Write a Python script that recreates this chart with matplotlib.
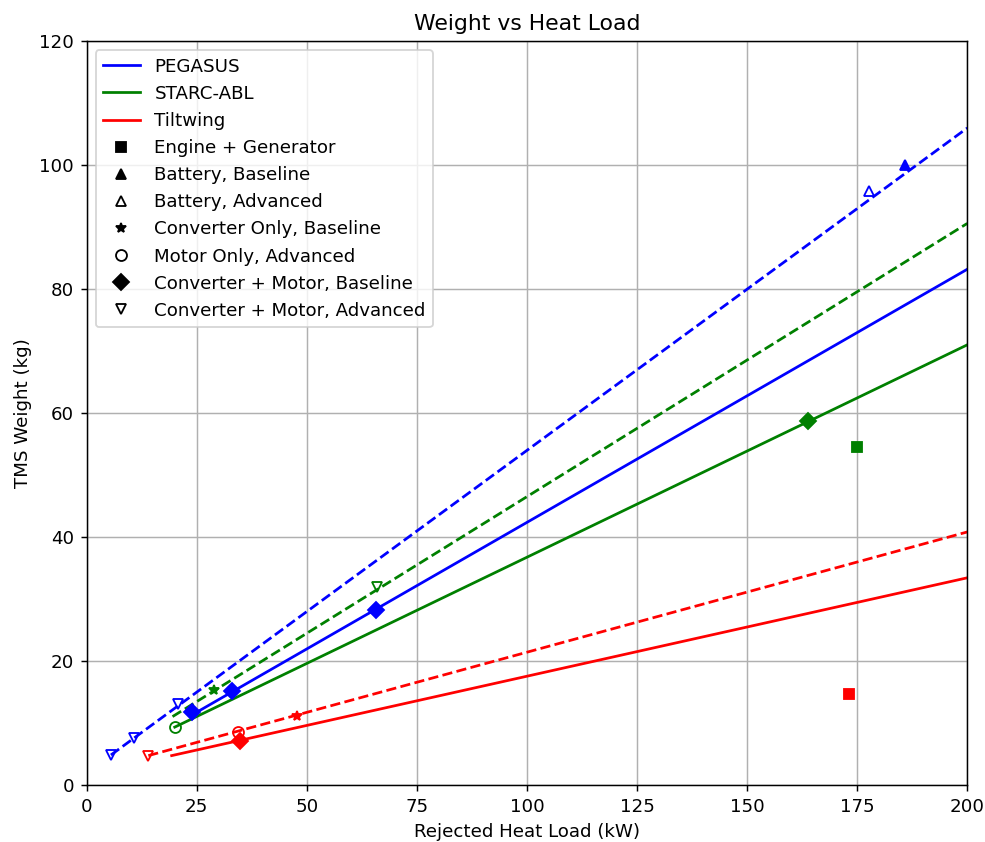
import matplotlib
matplotlib.use("Agg")
import matplotlib.pyplot as plt
from matplotlib.lines import Line2D

DPI = 131.5

# ---------------- data ----------------
# fit lines: (x start, x end) and (y start, y end)
peg_base_x = [24, 200]
peg_base_y = [11.3, 83.2]
peg_adv_x = [5.5, 200]
peg_adv_y = [4.8, 106.0]
starc_base_x = [20, 200]
starc_base_y = [9.3, 71.0]
starc_adv_x = [19.5, 200]
starc_adv_y = [11.0, 90.6]
tilt_base_x = [19.3, 200]
tilt_base_y = [4.7, 33.4]
tilt_adv_x = [14, 200]
tilt_adv_y = [4.7, 40.8]

# PEGASUS points
peg_batt_base = ([185.9], [100.0])
peg_batt_adv = ([177.7], [95.8])
peg_cm_base = ([24, 33, 65.7], [11.8, 15.2, 28.2])
peg_cm_adv = ([5.5, 10.7, 20.7], [4.8, 7.6, 13.1])

# STARC-ABL points
starc_eng = ([175.0], [54.5])
starc_conv_base = ([28.9], [15.3])
starc_motor_adv = ([20.0], [9.3])
starc_cm_base = ([163.9], [58.7])
starc_cm_adv = ([65.9], [31.9])

# Tiltwing points
tilt_eng = ([173.2], [14.7])
tilt_conv_base = ([47.7], [11.1])
tilt_motor_adv = ([34.3], [8.5])
tilt_cm_base = ([34.8], [7.1])
tilt_cm_adv = ([13.9], [4.7])

# ---------------- plot ----------------
fig, ax = plt.subplots(figsize=(985 / DPI, 842 / DPI), dpi=DPI)
fig.subplots_adjust(left=0.088, right=0.982, top=0.951, bottom=0.068)

ax.plot(peg_base_x, peg_base_y, color="blue", linestyle="-")
ax.plot(peg_adv_x, peg_adv_y, color="blue", linestyle="--")
ax.plot(starc_base_x, starc_base_y, color="green", linestyle="-")
ax.plot(starc_adv_x, starc_adv_y, color="green", linestyle="--")
ax.plot(tilt_base_x, tilt_base_y, color="red", linestyle="-")
ax.plot(tilt_adv_x, tilt_adv_y, color="red", linestyle="--")


def pts(xy, color, marker, filled=True, ms=6):
    ax.plot(xy[0], xy[1], linestyle="none", marker=marker, color=color,
            markersize=ms, markerfacecolor=color if filled else "none")


pts(peg_batt_base, "blue", "^")
pts(peg_batt_adv, "blue", "^", filled=False)
pts(peg_cm_base, "blue", "D", ms=6.5)
pts(peg_cm_adv, "blue", "v", filled=False)

pts(starc_eng, "green", "s")
pts(starc_conv_base, "green", "*")
pts(starc_motor_adv, "green", "o", filled=False)
pts(starc_cm_base, "green", "D", ms=6.5)
pts(starc_cm_adv, "green", "v", filled=False)

pts(tilt_eng, "red", "s")
pts(tilt_conv_base, "red", "*")
pts(tilt_motor_adv, "red", "o", filled=False)
pts(tilt_cm_base, "red", "D", ms=6.5)
pts(tilt_cm_adv, "red", "v", filled=False)

ax.set_xlim(0, 200)
ax.set_ylim(0, 120)
ax.set_xticks(range(0, 201, 25))
ax.set_yticks(range(0, 121, 20))
ax.grid(True)
ax.set_title("Weight vs Heat Load")
ax.set_xlabel("Rejected Heat Load (kW)")
ax.set_ylabel("TMS Weight (kg)")

handles = [
    Line2D([], [], color="blue", label="PEGASUS"),
    Line2D([], [], color="green", label="STARC-ABL"),
    Line2D([], [], color="red", label="Tiltwing"),
    Line2D([], [], color="black", marker="s", linestyle="none", label="Engine + Generator"),
    Line2D([], [], color="black", marker="^", linestyle="none", label="Battery, Baseline"),
    Line2D([], [], color="black", marker="^", markerfacecolor="none", linestyle="none",
           label="Battery, Advanced"),
    Line2D([], [], color="black", marker="*", linestyle="none", label="Converter Only, Baseline"),
    Line2D([], [], color="black", marker="o", markerfacecolor="none", linestyle="none",
           label="Motor Only, Advanced"),
    Line2D([], [], color="black", marker="D", linestyle="none", label="Converter + Motor, Baseline"),
    Line2D([], [], color="black", marker="v", markerfacecolor="none", linestyle="none",
           label="Converter + Motor, Advanced"),
]
ax.legend(handles=handles, loc="upper left")

fig.savefig("out.png", dpi=DPI)
